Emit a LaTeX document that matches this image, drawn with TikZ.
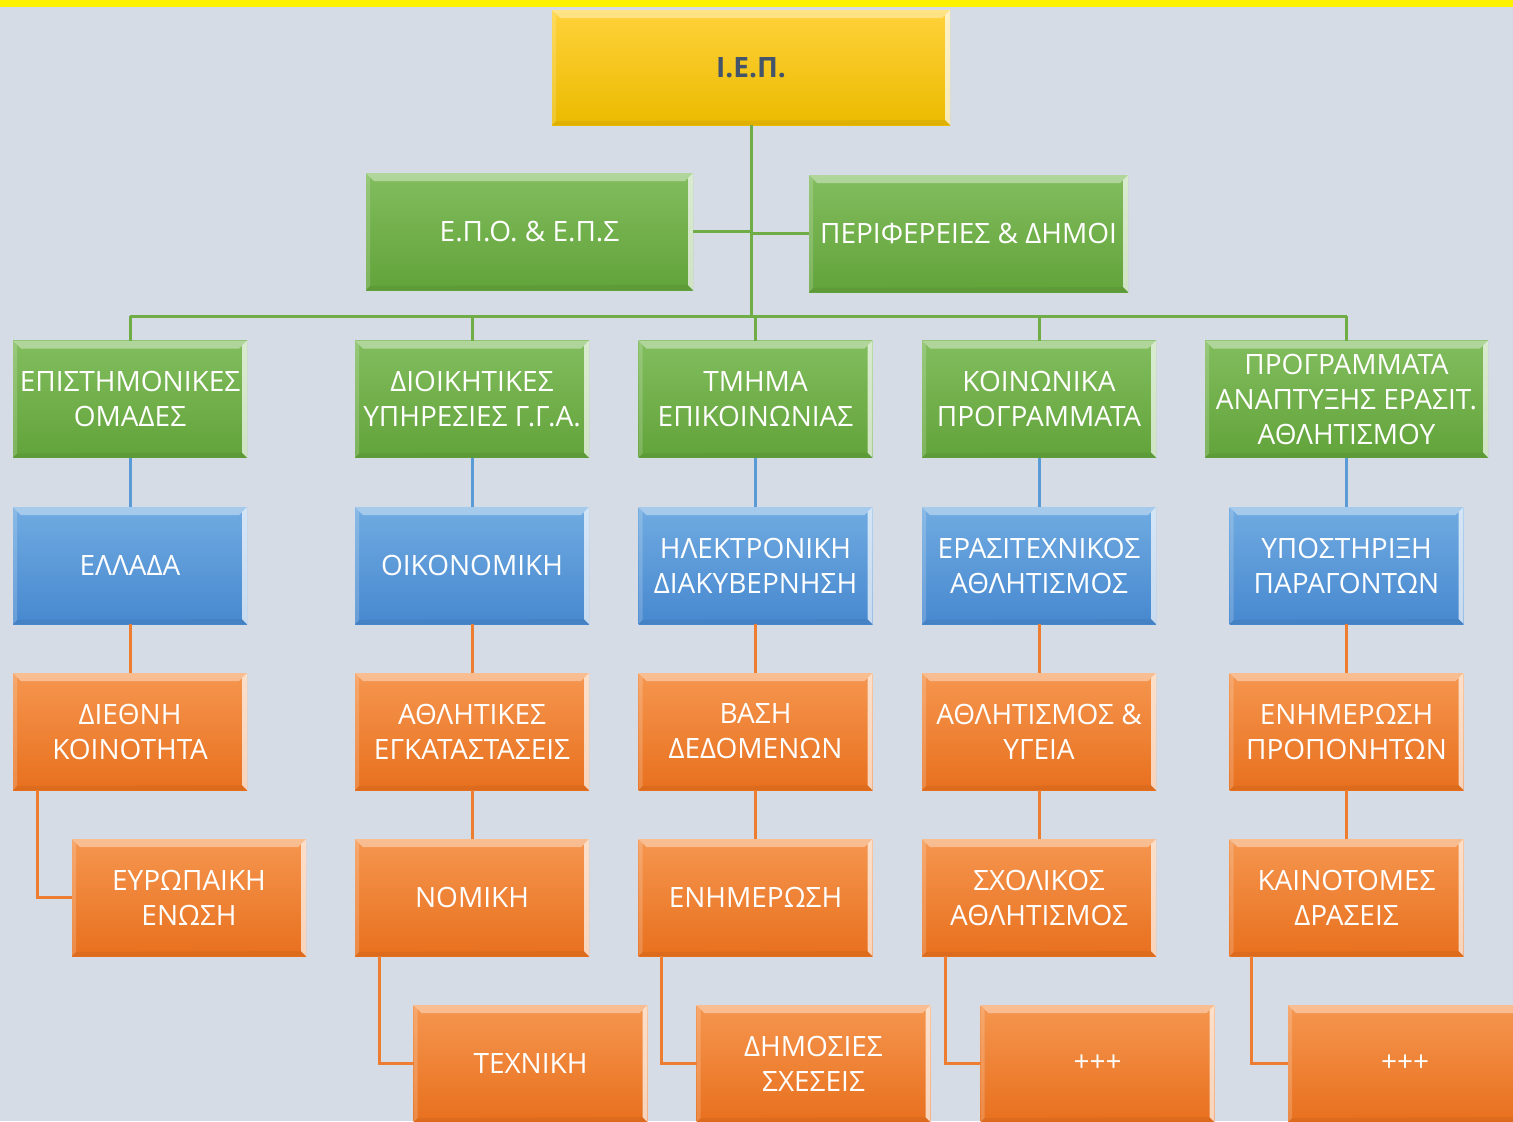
\documentclass[tikz,border=0pt]{standalone}
\usepackage{fontspec}
\setmainfont{Open Sans}
\usetikzlibrary{calc}
\definecolor{bg}{HTML}{D6DCE5}
\definecolor{gline}{HTML}{70AD47}
\definecolor{bline}{HTML}{5B9BD5}
\definecolor{oline}{HTML}{ED7D31}
\definecolor{gtop}{HTML}{82BD5E}
\definecolor{gbot}{HTML}{62A33A}
\definecolor{btop}{HTML}{70ABE1}
\definecolor{bbot}{HTML}{4788CF}
\definecolor{otop}{HTML}{F5964F}
\definecolor{obot}{HTML}{E8701E}
\definecolor{ytop}{HTML}{FFD23A}
\definecolor{ybot}{HTML}{EBBA00}
\definecolor{dark}{HTML}{44546A}
\tikzset{
  bevel/.style={path picture={
    \fill[white,opacity=.38] (path picture bounding box.north west) -- (path picture bounding box.north east)
      -- ([xshift=-4pt,yshift=-4pt]path picture bounding box.north east) -- ([xshift=4pt,yshift=-4pt]path picture bounding box.north west) -- cycle;
    \fill[white,opacity=.7] (path picture bounding box.north east) -- (path picture bounding box.south east)
      -- ([xshift=-2.5pt,yshift=2.5pt]path picture bounding box.south east) -- ([xshift=-2.5pt,yshift=-2.5pt]path picture bounding box.north east) -- cycle;
    \fill[white,opacity=.18] (path picture bounding box.north west) -- (path picture bounding box.south west)
      -- ([xshift=2pt,yshift=2pt]path picture bounding box.south west) -- ([xshift=2pt,yshift=-2pt]path picture bounding box.north west) -- cycle;
    \fill[black,opacity=.05] (path picture bounding box.south west) -- (path picture bounding box.south east)
      -- ([xshift=-2.5pt,yshift=2.5pt]path picture bounding box.south east) -- ([xshift=2pt,yshift=2pt]path picture bounding box.south west) -- cycle;
  }},
  box/.style={bevel, inner sep=0pt, outer sep=0pt, align=center, text=white,
    minimum width=117pt, minimum height=58.5pt,
    font=\fontsize{14}{17.5}\selectfont},
  gbox/.style={box, top color=gtop, bottom color=gbot},
  bbox/.style={box, top color=btop, bottom color=bbot},
  obox/.style={box, top color=otop, bottom color=obot},
  ybox/.style={box, top color=ytop, bottom color=ybot, text=dark,
    font=\fontsize{14}{17.5}\selectfont\bfseries},
  gl/.style={draw=gline, line width=1.5pt},
  bl/.style={draw=bline, line width=1.5pt},
  ol/.style={draw=oline, line width=1.5pt},
}
\begin{document}
\begin{tikzpicture}[x=0.5pt,y=-0.5pt]
\fill[bg] (0,0) rectangle (1513,1121);
\useasboundingbox (0,0) rectangle (1513,1121);
\fill[yellow] (0,0) rectangle (1513,7);

\coordinate (bus) at (751,316);
\coordinate (busL) at (130,316);
\coordinate (busR) at (1347,316);

% nodes
\node[ybox, minimum width=199pt, minimum height=57.5pt] (iep) at (751,67.5) {Ι.Ε.Π.};
\node[gbox, minimum width=163.5pt] (epo) at (529.5,231.5) {Ε.Π.Ο. \& Ε.Π.Σ};
\node[gbox, minimum width=159.5pt] (per) at (968.5,233.5) {ΠΕΡΙΦΕΡΕΙΕΣ \& ΔΗΜΟΙ};

\node[gbox] (g1) at (130,399) {ΕΠΙΣΤΗΜΟΝΙΚΕΣ\\ΟΜΑΔΕΣ};
\node[gbox] (g2) at (472,399) {ΔΙΟΙΚΗΤΙΚΕΣ\\ΥΠΗΡΕΣΙΕΣ Γ.Γ.Α.};
\node[gbox] (g3) at (755.5,399) {ΤΜΗΜΑ\\ΕΠΙΚΟΙΝΩΝΙΑΣ};
\node[gbox] (g4) at (1039,399) {ΚΟΙΝΩΝΙΚΑ\\ΠΡΟΓΡΑΜΜΑΤΑ};
\node[gbox, minimum width=141.5pt] (g5) at (1346.5,399) {ΠΡΟΓΡΑΜΜΑΤΑ\\ΑΝΑΠΤΥΞΗΣ ΕΡΑΣΙΤ.\\ΑΘΛΗΤΙΣΜΟΥ};

\node[bbox] (b1) at (130,565.5) {ΕΛΛΑΔΑ};
\node[bbox] (b2) at (472,565.5) {ΟΙΚΟΝΟΜΙΚΗ};
\node[bbox] (b3) at (755.5,565.5) {ΗΛΕΚΤΡΟΝΙΚΗ\\ΔΙΑΚΥΒΕΡΝΗΣΗ};
\node[bbox] (b4) at (1039,565.5) {ΕΡΑΣΙΤΕΧΝΙΚΟΣ\\ΑΘΛΗΤΙΣΜΟΣ};
\node[bbox] (b5) at (1346.5,565.5) {ΥΠΟΣΤΗΡΙΞΗ\\ΠΑΡΑΓΟΝΤΩΝ};

\node[obox] (o11) at (130,731.5) {ΔΙΕΘΝΗ\\ΚΟΙΝΟΤΗΤΑ};
\node[obox] (o21) at (472,731.5) {ΑΘΛΗΤΙΚΕΣ\\ΕΓΚΑΤΑΣΤΑΣΕΙΣ};
\node[obox] (o31) at (755.5,731.5) {ΒΑΣΗ\\ΔΕΔΟΜΕΝΩΝ};
\node[obox] (o41) at (1039,731.5) {ΑΘΛΗΤΙΣΜΟΣ \&\\ΥΓΕΙΑ};
\node[obox] (o51) at (1346.5,731.5) {ΕΝΗΜΕΡΩΣΗ\\ΠΡΟΠΟΝΗΤΩΝ};

\node[obox] (o12) at (189,897.5) {ΕΥΡΩΠΑΙΚΗ\\ΕΝΩΣΗ};
\node[obox] (o22) at (472,897.5) {ΝΟΜΙΚΗ};
\node[obox] (o32) at (755.5,897.5) {ΕΝΗΜΕΡΩΣΗ};
\node[obox] (o42) at (1039,897.5) {ΣΧΟΛΙΚΟΣ\\ΑΘΛΗΤΙΣΜΟΣ};
\node[obox] (o52) at (1346.5,897.5) {ΚΑΙΝΟΤΟΜΕΣ\\ΔΡΑΣΕΙΣ};

\node[obox] (o23) at (530.5,1063.5) {ΤΕΧΝΙΚΗ};
\node[obox] (o33) at (813.5,1063.5) {ΔΗΜΟΣΙΕΣ\\ΣΧΕΣΕΙΣ};
\node[obox] (o43) at (1097.5,1063.5) {+++};
\node[obox] (o53) at (1405,1063.5) {+++};

% connectors
\draw[gl] (iep.south) -- (bus);
\draw[gl] (busL) -- (busR);
\draw[gl] (epo.east) -- (epo.east -| bus);
\draw[gl] (per.west) -- (per.west -| bus);
\foreach \g in {g1,g2,g3,g4,g5}{\draw[gl] (\g.north) -- (\g.north |- bus);}
\draw[bl] (g1.south) -- (b1.north);
\draw[bl] (g2.south) -- (b2.north);
\draw[bl] (g3.south) -- (b3.north);
\draw[bl] (g4.south) -- (b4.north);
\draw[bl] (g5.south) -- (b5.north);
\draw[ol] (b1.south) -- (o11.north);
\draw[ol] (b2.south) -- (o21.north);
\draw[ol] (b3.south) -- (o31.north);
\draw[ol] (b4.south) -- (o41.north);
\draw[ol] (b5.south) -- (o51.north);
\draw[ol] (o21.south) -- (o22.north);
\draw[ol] (o31.south) -- (o32.north);
\draw[ol] (o41.south) -- (o42.north);
\draw[ol] (o51.south) -- (o52.north);
\draw[ol] ($(o11.south west)+(24,0)$) |- (o12.west);
\draw[ol] ($(o22.south west)+(24,0)$) |- (o23.west);
\draw[ol] ($(o32.south west)+(23,0)$) |- (o33.west);
\draw[ol] ($(o42.south west)+(23,0)$) |- (o43.west);
\draw[ol] ($(o52.south west)+(22,0)$) |- (o53.west);
\end{tikzpicture}
\end{document}
